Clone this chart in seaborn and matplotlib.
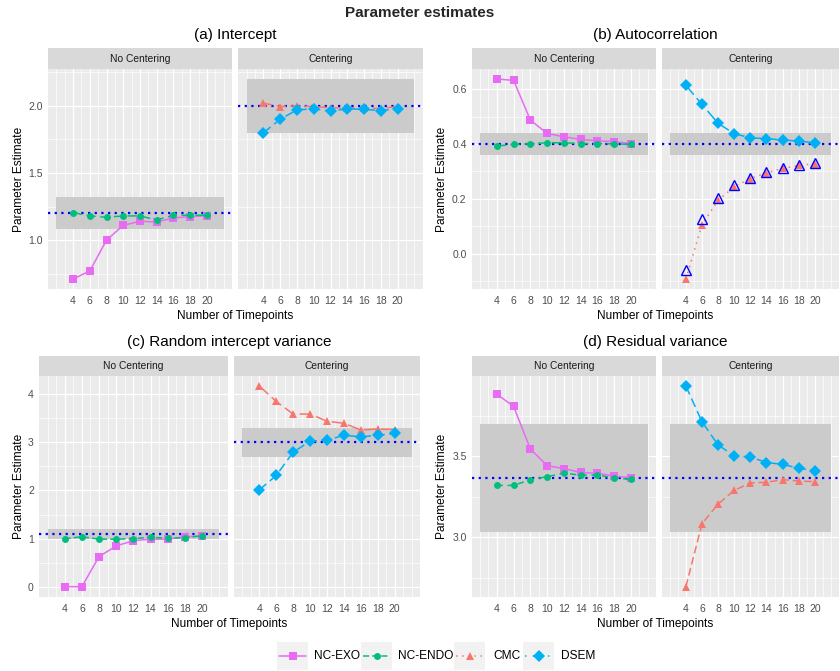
import numpy as np
import pandas as pd
import matplotlib
matplotlib.use("Agg")
import matplotlib.pyplot as plt
import seaborn as sns
from matplotlib.lines import Line2D
from matplotlib.patches import Rectangle

# ---------------- data ----------------
timepoints = [4, 6, 8, 10, 12, 14, 16, 18, 20]
methods = ["NC-EXO", "NC-ENDO", "CMC", "DSEM"]
facets = ["No Centering", "Centering"]
method_facet = {"NC-EXO": "No Centering", "NC-ENDO": "No Centering",
                "CMC": "Centering", "DSEM": "Centering"}

# (a) Intercept
int_nc_exo = [0.71, 0.77, 1.00, 1.11, 1.14, 1.135, 1.165, 1.175, 1.18]
int_nc_endo = [1.205, 1.18, 1.17, 1.18, 1.18, 1.15, 1.185, 1.185, 1.185]
int_cmc = [2.02, 1.995, 2.0, 1.995, 1.985, 1.985, 1.985, 1.98, 1.995]
int_dsem = [1.80, 1.90, 1.97, 1.978, 1.96, 1.978, 1.973, 1.965, 1.978]
int_true = [1.2, 2.0]
int_band_lo = [1.08, 1.80]
int_band_hi = [1.32, 2.20]

# (b) Autocorrelation
ac_nc_exo = [0.638, 0.633, 0.488, 0.439, 0.427, 0.417, 0.412, 0.409, 0.402]
ac_nc_endo = [0.393, 0.399, 0.401, 0.405, 0.405, 0.402, 0.402, 0.401, 0.399]
ac_cmc = [-0.093, 0.106, 0.195, 0.244, 0.274, 0.295, 0.311, 0.322, 0.329]
ac_dsem = [0.615, 0.545, 0.476, 0.438, 0.423, 0.420, 0.415, 0.411, 0.405]
ac_cmc_open = [-0.061, 0.126, 0.204, 0.251, 0.276, 0.298, 0.312, 0.322, 0.332]
ac_true = [0.4, 0.4]
ac_band_lo = [0.36, 0.36]
ac_band_hi = [0.44, 0.44]

# (c) Random intercept variance
ri_nc_exo = [0.007, 0.007, 0.63, 0.85, 0.96, 0.99, 0.99, 1.04, 1.06]
ri_nc_endo = [1.0, 1.04, 0.99, 0.99, 1.0, 1.03, 1.01, 1.02, 1.06]
ri_cmc = [4.16, 3.84, 3.58, 3.58, 3.43, 3.39, 3.25, 3.27, 3.26]
ri_dsem = [2.01, 2.31, 2.79, 3.02, 3.04, 3.14, 3.11, 3.14, 3.18]
ri_true = [1.1, 3.0]
ri_band_lo = [0.99, 2.70]
ri_band_hi = [1.21, 3.30]

# (d) Residual variance
rv_nc_exo = [3.884, 3.808, 3.545, 3.442, 3.424, 3.40, 3.395, 3.378, 3.366]
rv_nc_endo = [3.32, 3.32, 3.355, 3.374, 3.395, 3.384, 3.384, 3.366, 3.357]
rv_cmc = [2.694, 3.083, 3.205, 3.289, 3.335, 3.339, 3.355, 3.347, 3.343]
rv_dsem = [3.934, 3.713, 3.57, 3.502, 3.496, 3.461, 3.45, 3.426, 3.411]
rv_true = [3.364, 3.364]
rv_band_lo = [3.03, 3.03]
rv_band_hi = [3.70, 3.70]

band_x = [2, 22]

panel_titles = {"a": "(a) Intercept", "b": "(b) Autocorrelation",
                "c": "(c) Random intercept variance", "d": "(d) Residual variance"}
panel_series = {
    "a": {"NC-EXO": int_nc_exo, "NC-ENDO": int_nc_endo, "CMC": int_cmc, "DSEM": int_dsem},
    "b": {"NC-EXO": ac_nc_exo, "NC-ENDO": ac_nc_endo, "CMC": ac_cmc, "DSEM": ac_dsem},
    "c": {"NC-EXO": ri_nc_exo, "NC-ENDO": ri_nc_endo, "CMC": ri_cmc, "DSEM": ri_dsem},
    "d": {"NC-EXO": rv_nc_exo, "NC-ENDO": rv_nc_endo, "CMC": rv_cmc, "DSEM": rv_dsem},
}
panel_true = {"a": int_true, "b": ac_true, "c": ri_true, "d": rv_true}
panel_band = {"a": (int_band_lo, int_band_hi), "b": (ac_band_lo, ac_band_hi),
              "c": (ri_band_lo, ri_band_hi), "d": (rv_band_lo, rv_band_hi)}
y_ticks = {"a": [1.0, 1.5, 2.0], "b": [0.0, 0.2, 0.4, 0.6],
           "c": [0, 1, 2, 3, 4], "d": [3.0, 3.5]}
y_ticklabels = {"a": ["1.0", "1.5", "2.0"], "b": ["0.0", "0.2", "0.4", "0.6"],
                "c": ["0", "1", "2", "3", "4"], "d": ["3.0", "3.5"]}
y_minor = {"a": [0.75, 1.25, 1.75, 2.25], "b": [-0.1, 0.1, 0.3, 0.5],
           "c": [0.5, 1.5, 2.5, 3.5], "d": [2.75, 3.25, 3.75]}

rows = []
for pk, ser in panel_series.items():
    for m, vals in ser.items():
        for t, v in zip(timepoints, vals):
            rows.append({"panel": pk, "facet": method_facet[m], "method": m, "T": t, "est": v})
df = pd.DataFrame(rows)

# ---------------- style ----------------
palette = {"NC-EXO": "#E76BF3", "NC-ENDO": "#00BF7D", "CMC": "#F8766D", "DSEM": "#00B0F6"}
markers = {"NC-EXO": "s", "NC-ENDO": "o", "CMC": "^", "DSEM": "D"}
msize = {"s": 5.8, "o": 5.0, "^": 6.2, "D": 5.9}
panel_dashes = {
    "a": {"NC-EXO": "", "NC-ENDO": (6, 3), "CMC": (6, 3), "DSEM": (6, 3)},
    "b": {"NC-EXO": "", "NC-ENDO": (6, 3), "CMC": (1, 3), "DSEM": (8, 3)},
    "c": {"NC-EXO": "", "NC-ENDO": (4, 2), "CMC": (8, 3), "DSEM": (6, 3)},
    "d": {"NC-EXO": "", "NC-ENDO": (4, 3), "CMC": (5, 2.5), "DSEM": (6, 3)},
}
legend_dashes = {"NC-EXO": "-", "NC-ENDO": (0, (4, 2)), "CMC": (0, (1, 3)), "DSEM": (0, (1, 4))}

sns.set_style("white")
plt.rcParams["font.family"] = ["Liberation Sans", "DejaVu Sans"]

W, H = 840, 671
fig = plt.figure(figsize=(W / 100, H / 100), dpi=100)

layout = {
    "a": {"xs": [(48, 232), (238.3, 422.7)], "strip_top": 48, "top": 69, "bottom": 289,
          "title_y": 35, "xlab_y": 319.5, "ylab_x": 19},
    "b": {"xs": [(471.7, 656), (661.7, 839)], "strip_top": 48, "top": 69, "bottom": 289,
          "title_y": 35, "xlab_y": 319.5, "ylab_x": 442},
    "c": {"xs": [(39, 227.7), (234, 420)], "strip_top": 356, "top": 376, "bottom": 596.7,
          "title_y": 342, "xlab_y": 626.5, "ylab_x": 19},
    "d": {"xs": [(471.7, 656), (661.7, 839)], "strip_top": 356, "top": 376, "bottom": 596.7,
          "title_y": 342, "xlab_y": 626.5, "ylab_x": 442},
}


def rect(x0, y0, x1, y1):
    return [x0 / W, 1 - y1 / H, (x1 - x0) / W, (y1 - y0) / H]


TICK_COL = "#4D4D4D"
for pk in ["a", "b", "c", "d"]:
    L = layout[pk]
    pdata = df[df.panel == pk]
    allv = pdata.est.tolist() + list(panel_band[pk][0]) + list(panel_band[pk][1])
    if pk == "b":
        allv += ac_cmc_open
    lo, hi = min(allv), max(allv)
    pad = 0.05 * (hi - lo)
    for fi, facet in enumerate(facets):
        x0, x1 = L["xs"][fi]
        ax = fig.add_axes(rect(x0, L["top"], x1, L["bottom"]))
        sax = fig.add_axes(rect(x0, L["strip_top"], x1, L["top"]))
        sax.set_facecolor("#D9D9D9")
        sax.set_xticks([]); sax.set_yticks([])
        for s in sax.spines.values():
            s.set_visible(False)
        sax.text(0.5, 0.5, facet, ha="center", va="center", fontsize=7.4, color="#1A1A1A",
                 transform=sax.transAxes)

        ax.set_facecolor("#EBEBEB")
        for s in ax.spines.values():
            s.set_visible(False)
        # band
        ax.fill_between(band_x, [panel_band[pk][0][fi]] * 2, [panel_band[pk][1][fi]] * 2,
                        color="#CBCBCB", lw=0, zorder=1)
        ax.axhline(panel_true[pk][fi], color="#0000FF", ls=(0, (1, 2)), lw=1.6, zorder=2)

        sub = pdata[pdata.facet == facet]
        order = [m for m in methods if method_facet[m] == facet]
        sns.lineplot(data=sub, x="T", y="est", hue="method", style="method",
                     hue_order=order, style_order=order, palette=palette,
                     markers={m: markers[m] for m in order},
                     dashes={m: panel_dashes[pk][m] for m in order},
                     linewidth=1.1, markeredgewidth=0, legend=False, ax=ax,
                     errorbar=None, zorder=3)
        for ln in ax.lines:
            mk = ln.get_marker()
            if mk in msize:
                ln.set_markersize(msize[mk])
        if pk == "b" and facet == "Centering":
            ax.plot(timepoints, ac_cmc_open, ls="none", marker="^", ms=7.8,
                    mfc="none", mec="#0000FF", mew=1.0, zorder=4)

        ax.set_xlim(1, 23)
        ax.set_ylim(lo - pad, hi + pad)
        ax.set_xticks(timepoints)
        ax.set_xticklabels([str(t) for t in timepoints])
        ax.set_xticks([v for v in range(2, 23) if v not in timepoints], minor=True)
        ax.set_yticks(y_ticks[pk])
        ax.set_yticks(y_minor[pk], minor=True)
        if fi == 0:
            ax.set_yticklabels(y_ticklabels[pk])
        else:
            ax.set_yticklabels([])
        ax.grid(which="major", color="white", lw=0.9, zorder=0)
        ax.grid(which="minor", color="white", lw=0.5, zorder=0)
        ax.set_axisbelow(True)
        ax.tick_params(which="major", length=2.2, width=0.7, color="#333333",
                       labelsize=7.5, labelcolor=TICK_COL, pad=1.5)
        ax.tick_params(axis="x", which="major", pad=3.0)
        ax.tick_params(which="minor", length=0)
        if fi == 1:
            ax.tick_params(axis="y", which="major", length=0)
        ax.set_xlabel("")
        ax.set_ylabel("")

    xc = (L["xs"][0][0] + L["xs"][1][1]) / 2
    fig.text(xc / W, 1 - L["title_y"] / H, panel_titles[pk], ha="center", va="center",
             fontsize=11, color="black")
    fig.text(xc / W, 1 - L["xlab_y"] / H, "Number of Timepoints", ha="center", va="baseline",
             fontsize=8.6, color="black")
    fig.text(L["ylab_x"] / W, 1 - (L["top"] + L["bottom"]) / 2 / H, "Parameter Estimate",
             ha="center", va="center", rotation=90, fontsize=8.6, color="black")

fig.text(420 / W, 1 - 13 / H, "Parameter estimates", ha="center", va="center",
         fontsize=11, fontweight="bold")

# ---------------- legend ----------------
key_x = [277, 361, 454.5, 523]
text_x = [314, 398, 493, 561]
ky0, ky1 = 642, 670
for m, kx, tx in zip(methods, key_x, text_x):
    fig.patches.append(Rectangle((kx / W, 1 - ky1 / H), 31 / W, (ky1 - ky0) / H,
                                 transform=fig.transFigure, facecolor="#F2F2F2",
                                 edgecolor="none"))
    yc = 1 - (ky0 + ky1) / 2 / H
    fig.lines.append(Line2D([(kx + 2) / W, (kx + 29) / W], [yc, yc], transform=fig.transFigure,
                            color=palette[m], lw=1.1, ls=legend_dashes[m]))
    fig.lines.append(Line2D([(kx + 15.5) / W], [yc], transform=fig.transFigure,
                            color=palette[m], marker=markers[m], ms=msize[markers[m]], mew=0,
                            ls="none"))
    fig.text(tx / W, yc, m, ha="left", va="center", fontsize=8.6, color="black")

fig.savefig("out.png", dpi=100)
